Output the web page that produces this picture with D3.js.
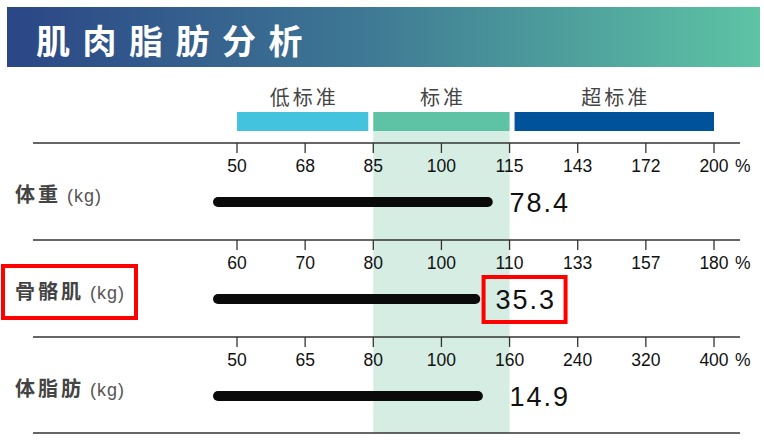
<!DOCTYPE html>
<html><head><meta charset="utf-8">
<script src="https://cdn.jsdelivr.net/npm/d3@7"></script>
<style>
html,body{margin:0;padding:0;background:#fff;}
svg{display:block;}
</style></head>
<body>
<svg id="chart" width="764" height="441"></svg>
<script>
// ---- data ----
const title = "肌肉脂肪分析";
const legendLabels = ["低标准", "标准", "超标准"];
const legendColors = ["#43C3DD", "#5EC2A5", "#00529B"];
const categories = ["体重", "骨骼肌", "体脂肪"];
const unit = "(kg)";
const tickLabelsWeight = [50, 68, 85, 100, 115, 143, 172, 200];
const tickLabelsMuscle = [60, 70, 80, 100, 110, 133, 157, 180];
const tickLabelsFat = [50, 65, 80, 100, 160, 240, 320, 400];
const percentValues = [111.3, 105.7, 136.5];
const displayValues = ["78.4", "35.3", "14.9"];
const highlighted = ["骨骼肌"];
const tickSets = [tickLabelsWeight, tickLabelsMuscle, tickLabelsFat];

// ---- layout ----
const svg = d3.select("#chart");
const axisLeft = 237, axisRight = 714;
const lineLeft = 33, lineRight = 740;
const plotLeft = 213;
const CJK = "'Noto Sans CJK SC','Noto Sans',sans-serif";
const NUM = "'Liberation Sans',Arial,sans-serif";

// header gradient
const defs = svg.append("defs");
const grad = defs.append("linearGradient").attr("id", "hdr").attr("x1", "0%").attr("x2", "100%");
grad.append("stop").attr("offset", "0%").attr("stop-color", "#2B4686");
grad.append("stop").attr("offset", "45%").attr("stop-color", "#3D7594");
grad.append("stop").attr("offset", "100%").attr("stop-color", "#5DC4A4");
svg.append("rect").attr("x", 7).attr("y", 7).attr("width", 753).attr("height", 60).attr("fill", "url(#hdr)");
svg.append("text").attr("x", 36).attr("y", 54).text(title)
  .attr("font-family", CJK).attr("font-weight", 700).attr("font-size", 34)
  .attr("letter-spacing", 12.5).attr("fill", "#fff");

// rows
const rowScale = d3.scaleBand().domain(categories).range([143, 434]);
const idx = d3.scalePoint().domain(d3.range(8)).range([axisLeft, axisRight]);
const scales = tickSets.map(t => d3.scaleLinear().domain(t).range(t.map((d, i) => idx(i))));
const s0 = scales[0];

// standard zone band
const zoneX0 = s0(tickLabelsWeight[2]), zoneX1 = s0(tickLabelsWeight[4]);
svg.append("rect").attr("x", zoneX0).attr("y", 131).attr("width", zoneX1 - zoneX0).attr("height", 433 - 131)
  .attr("fill", "#D5EDE3");

// legend
const legendBounds = [
  [s0(tickLabelsWeight[0]), s0(tickLabelsWeight[2]) - 5],
  [s0(tickLabelsWeight[2]), s0(tickLabelsWeight[4])],
  [s0(tickLabelsWeight[4]) + 5, s0(tickLabelsWeight[7])]
];
const lg = svg.append("g");
lg.selectAll("rect").data(legendLabels).join("rect")
  .attr("x", (d, i) => legendBounds[i][0]).attr("y", 112)
  .attr("width", (d, i) => legendBounds[i][1] - legendBounds[i][0]).attr("height", 19)
  .attr("fill", (d, i) => legendColors[i]);
lg.selectAll("text").data(legendLabels).join("text")
  .attr("x", (d, i) => (legendBounds[i][0] + legendBounds[i][1]) / 2 + 1.5).attr("y", 105)
  .attr("text-anchor", "middle").text(d => d)
  .attr("font-family", CJK).attr("font-size", 20).attr("letter-spacing", 3).attr("fill", "#444");

// row lines
const lineYs = categories.map(c => rowScale(c)).concat([rowScale.range()[1] - 1]);
svg.selectAll("line.row").data(lineYs).join("line").attr("class", "row")
  .attr("x1", lineLeft).attr("x2", lineRight).attr("y1", d => d).attr("y2", d => d)
  .attr("stroke", "#333").attr("stroke-width", 1.5);

categories.forEach((cat, r) => {
  const top = rowScale(cat);
  const x = scales[r];
  const g = svg.append("g");
  // ticks
  g.selectAll("line.tick").data(tickSets[r]).join("line")
    .attr("x1", d => x(d)).attr("x2", d => x(d)).attr("y1", top).attr("y2", top + 10)
    .attr("stroke", "#333").attr("stroke-width", 1.3);
  g.selectAll("text.tl").data(tickSets[r]).join("text")
    .attr("x", d => x(d)).attr("y", top + 29).attr("text-anchor", "middle").text(d => d)
    .attr("font-family", NUM).attr("font-size", 17.5).attr("fill", "#111");
  g.append("text").attr("x", x(tickSets[r][7]) + 21).attr("y", top + 29).text("%")
    .attr("font-family", NUM).attr("font-size", 17.5).attr("fill", "#111");
  // category label
  const lab = g.append("text").attr("x", 15).attr("y", top + 59);
  lab.append("tspan").text(cat).attr("font-family", CJK).attr("font-weight", 700)
    .attr("font-size", 20).attr("letter-spacing", 3).attr("fill", "#444");
  lab.append("tspan").text(unit).attr("font-family", NUM).attr("font-size", 18)
    .attr("letter-spacing", 1).attr("fill", "#555").attr("dx", 6);
  // bar
  const by = top + 59;
  g.append("rect").attr("x", plotLeft).attr("y", by - 5)
    .attr("width", x(percentValues[r]) - plotLeft).attr("height", 10).attr("rx", 5)
    .attr("fill", "#0a0a0a");
  // value
  const hl = highlighted.includes(cat);
  const vx = x(tickSets[r][4]) + (hl ? -14 : 0);
  g.append("text").attr("x", vx).attr("y", by + 10).text(displayValues[r])
    .attr("font-family", NUM).attr("font-size", 27).attr("letter-spacing", 2).attr("fill", "#111");
  if (hl) {
    g.append("rect").attr("x", vx - 12).attr("y", top + 37).attr("width", 82).attr("height", 45)
      .attr("fill", "none").attr("stroke", "#F00").attr("stroke-width", 4);
    g.append("rect").attr("x", 3).attr("y", top + 26).attr("width", 133).attr("height", 52)
      .attr("fill", "none").attr("stroke", "#F00").attr("stroke-width", 4);
  }
});
</script>
</body></html>
